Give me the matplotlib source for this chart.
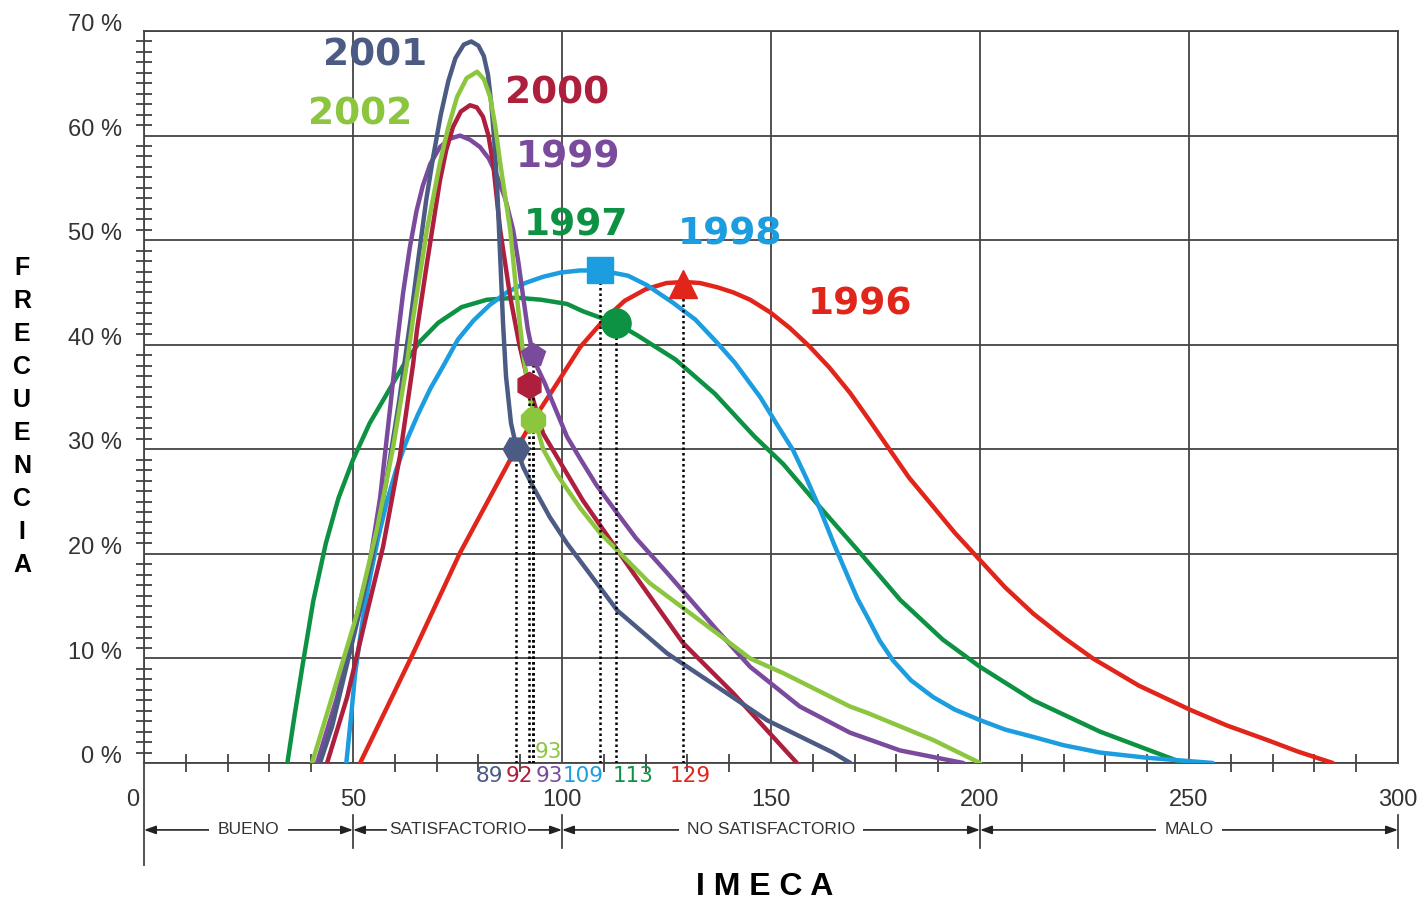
import matplotlib
matplotlib.use('Agg')
import matplotlib.pyplot as plt
import matplotlib.transforms as mtransforms

# curves: IMECA value vs frequency (%)
x1996 = [51.7, 64.4, 75.6, 87.6, 92.5, 98.8, 104.4, 110.1, 115.0, 120.0, 125.0, 129.4, 133.0, 137.1,
         141.0, 145.0, 149.8, 154.5, 159.3, 164.0, 168.9, 173.5, 178.5, 183.0, 188.0, 194.0, 200.0,
         206.0, 212.7, 220.0, 227.0, 238.0, 250.2, 259.0, 268.7, 276.0, 284.4]
y1996 = [0, 10.5, 20.1, 29.0, 32.4, 36.3, 39.8, 42.4, 44.2, 45.3, 45.9, 46.0, 45.9, 45.5,
         45.0, 44.3, 43.1, 41.6, 39.8, 37.8, 35.4, 32.8, 29.9, 27.3, 24.9, 22.0, 19.4,
         16.8, 14.3, 12.0, 10.0, 7.4, 5.1, 3.6, 2.2, 1.1, 0]

x1997 = [34.3, 36.0, 38.0, 40.5, 43.5, 46.5, 50.0, 54.0, 58.1, 62.0, 66.0, 70.4, 76.0, 82.0, 89.2,
         95.0, 101.2, 105.0, 109.1, 113.2, 118.0, 127.1, 136.6, 146.1, 152.9, 161.0, 171.3, 180.9,
         191.1, 200.0, 212.7, 228.7, 240.0, 248.6]
y1997 = [0, 4.5, 9.5, 15.5, 21.0, 25.3, 29.0, 32.5, 35.3, 38.0, 40.3, 42.1, 43.6, 44.3, 44.5,
         44.3, 43.9, 43.2, 42.6, 42.0, 40.9, 38.6, 35.3, 31.2, 28.6, 24.8, 20.1, 15.6,
         11.8, 9.2, 6.0, 3.0, 1.3, 0]

x1998 = [48.4, 49.6, 50.5, 51.5, 52.8, 54.3, 56.0, 58.1, 60.3, 62.8, 65.5, 68.5, 71.5, 75.1, 78.8,
         82.7, 86.8, 91.2, 95.5, 99.7, 104.3, 109.3, 115.8, 120.3, 126.6, 131.9, 137.1, 141.3, 147.4,
         152.0, 155.3, 158.5, 161.7, 165.0, 168.2, 170.7, 173.0, 176.0, 179.2, 183.5, 188.8, 194.0,
         200.0, 206.0, 212.7, 220.0, 228.7, 240.0, 255.7]
y1998 = [0, 4.7, 8.5, 11.4, 15.0, 18.2, 21.5, 25.0, 28.0, 30.8, 33.3, 35.8, 37.9, 40.5, 42.3,
         43.8, 45.0, 45.9, 46.5, 46.9, 47.1, 47.1, 46.6, 45.7, 44.0, 42.4, 40.2, 38.3, 35.0,
         32.0, 29.9, 27.2, 24.3, 21.0, 18.0, 15.7, 14.0, 11.7, 9.8, 7.9, 6.3, 5.1,
         4.1, 3.2, 2.5, 1.7, 1.0, 0.5, 0]

x1999 = [41.4, 46.2, 50.0, 54.0, 56.5, 58.9, 60.5, 62.0, 63.6, 65.2, 66.7, 68.5, 70.8, 73.2, 75.6,
         78.0, 80.4, 82.5, 84.4, 86.4, 88.3, 89.6, 90.7, 91.8, 93.1, 94.0, 95.9, 98.8, 101.2, 104.5,
         108.2, 113.2, 117.7, 125.1, 137.1, 145.0, 156.9, 168.9, 180.9, 196.0]
y1999 = [0, 6.3, 12.7, 19.1, 25.4, 34.0, 40.0, 45.0, 49.3, 52.8, 55.2, 57.3, 58.9, 59.7, 60.0,
         59.6, 58.9, 57.8, 56.2, 54.0, 51.0, 47.8, 44.6, 41.5, 39.0, 37.9, 36.3, 33.5, 31.2, 29.0,
         26.6, 23.9, 21.5, 18.2, 12.7, 9.2, 5.4, 2.9, 1.2, 0]

x2000 = [43.8, 48.6, 53.3, 57.2, 61.2, 64.4, 65.3, 67.7, 70.8, 72.3, 73.9, 75.8, 78.0, 79.6, 81.1,
         82.4, 83.5, 85.2, 87.6, 89.8, 92.1, 95.5, 105.0, 117.0, 128.9, 140.9, 156.2]
y2000 = [0, 6.3, 14.3, 20.7, 29.3, 38.2, 41.4, 47.8, 55.7, 58.6, 60.8, 62.3, 62.9, 62.7, 61.8,
         60.0, 57.4, 51.0, 44.6, 40.0, 36.1, 31.5, 25.1, 18.2, 11.5, 6.7, 0]

x2001 = [42.1, 45.0, 48.0, 51.0, 54.5, 58.0, 61.0, 63.8, 65.7, 67.5, 69.2, 71.0, 72.8, 74.5, 76.5,
         78.3, 80.0, 81.3, 82.3, 83.1, 83.8, 84.5, 85.2, 85.9, 86.6, 87.8, 89.2, 90.7, 93.1, 97.1,
         101.2, 113.2, 125.1, 137.1, 149.0, 164.8, 169.0]
y2001 = [0, 3.5, 8.5, 13.5, 19.5, 27.0, 34.5, 42.5, 48.4, 53.8, 58.0, 62.0, 65.2, 67.4, 68.7,
         69.0, 68.6, 67.6, 65.8, 63.0, 59.5, 55.0, 48.5, 42.0, 37.0, 32.5, 30.0, 28.3, 26.4, 23.5,
         21.0, 14.6, 10.5, 7.3, 4.1, 1.0, 0]

x2002 = [40.2, 46.2, 51.0, 55.7, 59.6, 62.9, 64.4, 67.7, 70.8, 72.8, 74.9, 77.2, 79.7, 81.3, 82.8,
         84.0, 85.2, 87.6, 89.2, 90.6, 92.0, 93.5, 95.5, 98.8, 101.2, 104.5, 109.1, 121.0, 137.1,
         145.0, 152.9, 168.9, 173.0, 180.9, 188.8, 200.0]
y2002 = [0, 7.9, 14.3, 22.3, 30.2, 38.2, 42.6, 51.0, 57.4, 60.8, 63.7, 65.5, 66.1, 65.4, 63.7,
         61.0, 57.4, 51.0, 44.6, 39.5, 35.5, 32.8, 30.0, 27.6, 26.2, 24.3, 22.0, 17.2, 12.4,
         10.0, 8.6, 5.4, 4.8, 3.5, 2.2, 0]

# marked value per year (IMECA, frequency %)
years = ['1996', '1997', '1998', '1999', '2000', '2001', '2002']
mark_x = [129, 113, 109, 93, 92, 89, 93]
mark_y = [45.8, 42.1, 47.1, 39.0, 36.1, 30.0, 32.8]

zones = ['BUENO', 'SATISFACTORIO', 'NO SATISFACTORIO', 'MALO']
zone_edges = [0, 50, 100, 200, 300]

colors = {'1996': '#e1251b', '1997': '#0c9242', '1998': '#1b9ddf', '1999': '#7a4b9d',
          '2000': '#ae1f3d', '2001': '#4b5b84', '2002': '#8cc63f'}
markers = {'1996': '^', '1997': 'o', '1998': 's', '1999': 'p', '2000': 'h', '2001': 'H', '2002': '8'}
msizes = {'1996': 20, '1997': 21, '1998': 19, '1999': 18, '2000': 19, '2001': 19, '2002': 19}
curves = {'1996': (x1996, y1996), '1997': (x1997, y1997), '1998': (x1998, y1998),
          '1999': (x1999, y1999), '2000': (x2000, y2000), '2001': (x2001, y2001),
          '2002': (x2002, y2002)}

plt.rcParams['font.family'] = ['Liberation Sans', 'DejaVu Sans']

fig = plt.figure(figsize=(14.24, 9), dpi=100)
ax = fig.add_axes([144/1424, 1-763/900, (1398-144)/1424, (763-31)/900])

for yr in years:
    xs, ys = curves[yr]
    ax.plot(xs, ys, color=colors[yr], lw=3.2, zorder=3, solid_capstyle='round', solid_joinstyle='round')

for yr, mx, my in zip(years, mark_x, mark_y):
    ax.plot([mx, mx], [0, my], color='black', lw=1.8, ls=(0, (1, 1.2)), zorder=4)
    ax.plot(mx, my, marker=markers[yr], ms=msizes[yr], color=colors[yr], mec=colors[yr], zorder=5)

ax.set_xlim(0, 300)
ax.set_ylim(0, 70)
ax.set_xticks(range(0, 301, 50))
ax.set_xticks([v for v in range(10, 300, 10) if v % 50], minor=True)
ax.set_yticks(range(0, 71, 10))
ax.set_yticklabels([f'{v} %' for v in range(0, 71, 10)])
ax.set_yticks([v for v in range(1, 70) if v % 10], minor=True)
ax.grid(True, which='major', color='#444444', lw=1.3)
ax.tick_params(axis='x', which='major', length=0, pad=19, labelsize=17, labelcolor='#333333')
ax.tick_params(axis='y', which='major', length=0, pad=16, labelsize=17, labelcolor='#333333')
ax.tick_params(axis='x', which='minor', direction='inout', length=13, width=1.2, color='#333333')
ax.tick_params(axis='y', which='minor', direction='inout', length=12, width=1.2, color='#333333')
shift_up = mtransforms.ScaledTranslation(0, 6/72, fig.dpi_scale_trans)
for lab in ax.get_yticklabels():
    lab.set_transform(lab.get_transform() + shift_up)
xlabs = ax.get_xticklabels()
xlabs[0].set_transform(xlabs[0].get_transform() +
                       mtransforms.ScaledTranslation(-8/72, 0, fig.dpi_scale_trans))
for s in ax.spines.values():
    s.set_color('#444444')
    s.set_linewidth(1.3)

# year labels
year_pos = {'2001': (55.3, 67.7), '2002': (51.7, 62.0), '2000': (98.8, 64.0), '1999': (101.4, 57.9),
            '1997': (103.3, 51.4), '1998': (140.2, 50.5), '1996': (171.3, 43.8)}
for yr, (tx, ty) in year_pos.items():
    ax.text(tx, ty, yr, color=colors[yr], fontsize=27, fontweight='bold', ha='center', va='center',
            family='DejaVu Sans', zorder=6)

# value labels below the axis
val_pos = [('1996', 130.6), ('1997', 117.0), ('1998', 105.0), ('1999', 96.9), ('2000', 89.7), ('2001', 82.5)]
for yr, tx in val_pos:
    v = mark_x[years.index(yr)]
    ax.text(tx, -1.2, str(v), color=colors[yr], fontsize=15.5, ha='center', va='center',
            family='DejaVu Sans', clip_on=False)
ax.text(96.7, 1.05, str(mark_x[years.index('2002')]), color=colors['2002'], fontsize=15.5,
        ha='center', va='center', family='DejaVu Sans')

# zone arrows
zy = -6.4
for name, a, b in zip(zones, zone_edges[:-1], zone_edges[1:]):
    ax.annotate('', xy=(a, zy), xytext=(b, zy), annotation_clip=False,
                arrowprops=dict(arrowstyle='<|-|>,head_length=0.7,head_width=0.25', color='#222222',
                                lw=1.2, shrinkA=0, shrinkB=0))
    pad = 1.5 if name == 'SATISFACTORIO' else 6
    ax.text((a + b) / 2, zy, name, fontsize=12.5, color='#333333', ha='center', va='center',
            bbox=dict(facecolor='white', edgecolor='none', pad=pad), clip_on=False)
for e in zone_edges[1:]:
    ax.plot([e, e], [-5.0, -8.1], color='#333333', lw=1.2, clip_on=False)
ax.plot([0, 0], [0, -9.8], color='#444444', lw=1.3, clip_on=False)

fig.text(765/1424, 1-887/900, 'I M E C A', fontsize=23, fontweight='bold', ha='center', va='center')
for i, ch in enumerate('FRECUENCIA'):
    fig.text(22/1424, 1-(268 + i*33)/900, ch, fontsize=18, fontweight='bold', ha='center', va='center')

fig.savefig('out.png', dpi=100)
